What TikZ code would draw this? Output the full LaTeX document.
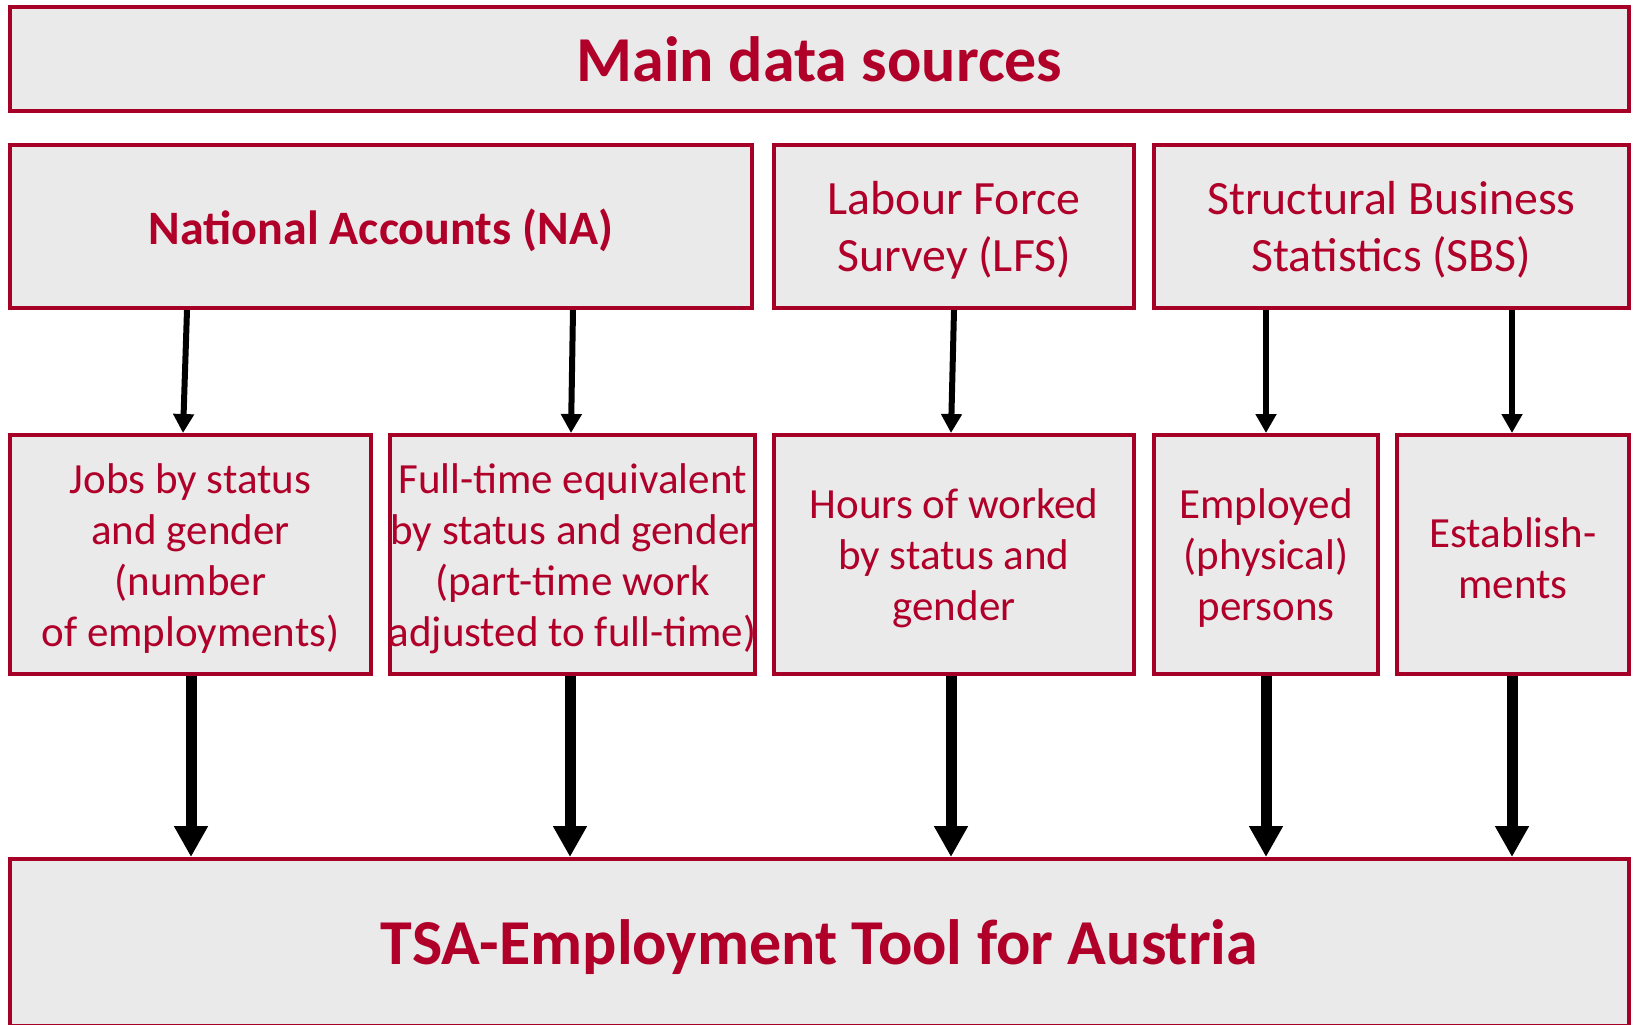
\documentclass[tikz,border=0pt]{standalone}
\usepackage{fontspec}
\setmainfont{Carlito}
\usetikzlibrary{arrows.meta}
\definecolor{bordred}{RGB}{166,0,38}
\definecolor{txtred}{RGB}{176,0,42}
\definecolor{boxfill}{RGB}{234,234,234}
\tikzset{
  box/.style={draw=bordred, fill=boxfill, line width=2pt, inner sep=0pt, align=center, text=txtred},
  rowtwo/.style={box, minimum height=81.5pt},
  rowthree/.style={box, minimum height=119.5pt},
  boxtext/.style={align=center, text=txtred, inner sep=0pt},
  twotext/.style={boxtext, font=\fontsize{23.9}{28.5}\selectfont, yshift=-1.7pt},
  rowtext/.style={boxtext, font=\fontsize{21.5}{25.5}\selectfont, yshift=-2pt},
  thinarrow/.style={line width=3pt, -{Triangle[width=10pt,length=9.5pt]}},
  thickarrow/.style={line width=5.5pt, -{Triangle[width=16pt,length=15.5pt]}}
}
\begin{document}
\begin{tikzpicture}[x=0.5pt,y=-0.5pt]
\useasboundingbox (0,0) rectangle (1633,1024);
\node[box, minimum width=809.5pt, minimum height=52pt, font=\fontsize{32}{38}\selectfont\bfseries] (top) at (819.5,59) {Main data sources};
\node[rowtwo, minimum width=371pt, label={[twotext, font=\fontsize{24}{30}\selectfont\bfseries]center:National Accounts (NA)}] (na) at (381,226.5) {};
\node[rowtwo, minimum width=180pt, label={[twotext]center:Labour Force\\Survey (LFS)}] (lfs) at (954,226.5) {};
\node[rowtwo, minimum width=237.5pt, label={[twotext]center:Structural Business\\Statistics (SBS)}] (sbs) at (1391.5,226.5) {};
\node[rowthree, minimum width=180.5pt, label={[rowtext]center:Jobs by status\\and gender\\(number\\of employments)}] (jobs) at (190.5,554.5) {};
\node[rowthree, minimum width=182.5pt, label={[rowtext]center:Full-time equivalent\\by status and gender\\(part-time work\\adjusted to full-time)}] (fte) at (572.5,554.5) {};
\node[rowthree, minimum width=180pt, label={[rowtext]center:Hours of worked\\by status and\\gender}] (hours) at (954,554.5) {};
\node[rowthree, minimum width=112pt, label={[rowtext]center:Employed\\(physical)\\persons}] (emp) at (1266,554.5) {};
\node[rowthree, minimum width=116pt, label={[rowtext]center:Establish-\\ments}] (est) at (1513,554.5) {};
\node[box, minimum width=809.5pt, minimum height=83.5pt, label={[boxtext, font=\fontsize{32}{38}\selectfont\bfseries, yshift=-2.5pt]center:TSA-Employment Tool for Austria}] (tsa) at (819.5,942.5) {};
% thin arrows
\draw[thinarrow] (na.south -| 187,0) -- (jobs.north -| 183,0);
\draw[thinarrow] (na.south -| 573,0) -- (fte.north -| 571,0);
\draw[thinarrow] (lfs.south -| 954,0) -- (hours.north -| 951,0);
\draw[thinarrow] (sbs.south -| 1266,0) -- (emp.north -| 1266,0);
\draw[thinarrow] (sbs.south -| 1512,0) -- (est.north -| 1512,0);
% thick arrows
\draw[thickarrow] (jobs.south -| 191,0) -- (tsa.north -| 191,0);
\draw[thickarrow] (fte.south -| 570,0) -- (tsa.north -| 570,0);
\draw[thickarrow] (hours.south -| 951,0) -- (tsa.north -| 951,0);
\draw[thickarrow] (emp.south -| 1266,0) -- (tsa.north -| 1266,0);
\draw[thickarrow] (est.south -| 1512,0) -- (tsa.north -| 1512,0);
\end{tikzpicture}
\end{document}
